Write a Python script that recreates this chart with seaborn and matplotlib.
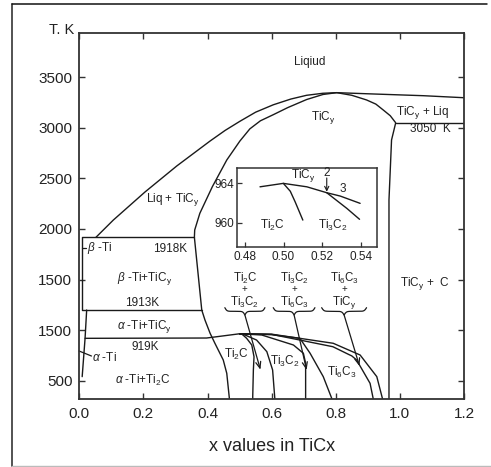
import numpy as np
import matplotlib
matplotlib.use("Agg")
import matplotlib.pyplot as plt
import seaborn as sns
from matplotlib.lines import Line2D

# Phase boundaries of the Ti-C system; x = C/Ti, T in K as placed on the chart's scale
liquidus_x = [0.052, 0.106, 0.205, 0.304, 0.408, 0.455, 0.501, 0.550, 0.605, 0.660,
              0.709, 0.760, 0.803, 0.917, 1.073, 1.200]
liquidus_T = [1918, 2088, 2366, 2623, 2870, 2975, 3065, 3155, 3228, 3285,
              3322, 3342, 3348, 3335, 3318, 3298]

# TiCy boundary: bottom -> 1918 K -> congruent maximum -> 3050 K -> TiCy + C
ticy_x = [0.468, 0.468, 0.460, 0.449, 0.423, 0.408, 0.392, 0.382, 0.359, 0.360, 0.376, 0.415,
          0.460, 0.501, 0.532, 0.565, 0.605, 0.650, 0.709, 0.760, 0.803, 0.850, 0.896,
          0.925, 0.948, 0.970, 0.987, 0.974, 0.966, 0.966, 0.966]
ticy_T = [319, 329, 573, 705, 870, 969, 1100, 1199, 1918, 1990, 2155, 2418,
          2682, 2870, 2990, 3070, 3130, 3200, 3280, 3330, 3348, 3322, 3276,
          3235, 3177, 3120, 3050, 2880, 2287, 1298, 319]

eutectic_x = [0.987, 1.2]
eutectic_T = [3050, 3050]

beta_box_x = [0.359, 0.0075, 0.0075, 0.382]
beta_box_T = [1918, 1918, 1199, 1199]

alpha_ti_x = [0.023, 0.018, 0.009]
alpha_ti_T = [1199, 919, 540]

line_919_x = [0.018, 0.397, 0.439, 0.500]
line_919_T = [919, 922, 939, 964]

# ordered carbide boundaries below 964 K
ord_a_x = [0.500, 0.507, 0.522, 0.538, 0.545, 0.543, 0.541, 0.541]
ord_a_T = [964, 962, 919, 853, 737, 606, 342, 319]
ord_b_x = [0.500, 0.517, 0.553, 0.585, 0.603, 0.610]
ord_b_T = [964, 952, 902, 787, 606, 319]
ord_c_x = [0.500, 0.569, 0.668, 0.699, 0.706, 0.706]
ord_c_T = [964, 952, 853, 771, 672, 319]
ord_d_x = [0.500, 0.600, 0.688, 0.720, 0.761, 0.787, 0.787]
ord_d_T = [964, 955, 919, 771, 540, 329, 319]
ord_e_x = [0.500, 0.600, 0.688, 0.791, 0.840, 0.850, 0.865, 0.907, 0.917]
ord_e_T = [964, 958, 902, 836, 760, 745, 705, 474, 319]
ord_f_x = [0.500, 0.600, 0.688, 0.792, 0.876, 0.928, 0.946]
ord_f_T = [964, 960, 919, 870, 754, 540, 319]

# inset (detail near 964 K)
ins_top_x = [0.4878, 0.4999, 0.5121, 0.5224, 0.5294, 0.5397]
ins_top_T = [963.65, 964.00, 963.65, 963.05, 962.71, 961.97]
ins_2_x = [0.5224, 0.5328, 0.5394]
ins_2_T = [963.05, 961.46, 960.35]
ins_ti2c_x = [0.4999, 0.5035, 0.5060, 0.5100]
ins_ti2c_T = [964.00, 963.20, 962.13, 960.27]

ytick_pos = [500, 1000, 1500, 2000, 2500, 3000, 3500]
ytick_lab = ["500", "1500", "1500", "2000", "2500", "3000", "3500"]
xtick_pos = [0.0, 0.2, 0.4, 0.6, 0.8, 1.0, 1.2]
ins_xticks = [0.48, 0.50, 0.52, 0.54]
ins_yticks = [960, 964]

sns.set_style("ticks")
plt.rcParams['font.family'] = ['Liberation Sans', 'DejaVu Sans']
plt.rcParams['mathtext.fontset'] = 'custom'
plt.rcParams['mathtext.rm'] = 'Liberation Sans'
plt.rcParams['mathtext.it'] = 'Liberation Sans:italic'
plt.rcParams['mathtext.bf'] = 'Liberation Sans:bold'

LC = '#1a1a1a'
TC = '#222222'

fig = plt.figure(figsize=(4.91, 4.67), dpi=100)
ax = fig.add_axes([0.1615, 0.1456, 0.7835, 0.7831])


def curve(a, xs, ys, lw=1.0):
    sns.lineplot(x=xs, y=ys, sort=False, estimator=None, color=LC, lw=lw, ax=a)


for xs, ys in [(liquidus_x, liquidus_T), (ticy_x, ticy_T), (eutectic_x, eutectic_T),
               (beta_box_x, beta_box_T), (alpha_ti_x, alpha_ti_T), (line_919_x, line_919_T),
               (ord_a_x, ord_a_T), (ord_b_x, ord_b_T), (ord_c_x, ord_c_T),
               (ord_d_x, ord_d_T), (ord_e_x, ord_e_T), (ord_f_x, ord_f_T)]:
    curve(ax, xs, ys)

ax.set_xlim(0, 1.2)
ax.set_ylim(319, 3935)
ax.set_xticks(xtick_pos)
ax.set_xticklabels([f"{v:.1f}" for v in xtick_pos])
ax.set_yticks(ytick_pos)
ax.set_yticklabels(ytick_lab)
ax.tick_params(direction='in', length=4, width=1.0, colors='#333333', labelcolor=TC,
               labelsize=11, top=True, right=True)
ax.tick_params(axis='x', pad=6)
ax.tick_params(axis='y', pad=5)
for s in ax.spines.values():
    s.set_linewidth(1.3)
    s.set_color('#333333')
ax.set_xlabel("x values in TiCx", fontsize=13, color=TC, labelpad=12)

fs = 8.5
def lab(x, y, s, ha='center', size=fs):
    ax.text(x, y, s, ha=ha, va='center', fontsize=size, color=TC, clip_on=False)

lab(-0.054, 3968, "T. K", size=10.5)
lab(0.719, 3651, "Liqiud")
lab(0.760, 3107, "TiC$_\\mathrm{y}$")
lab(1.072, 3147, "TiC$_\\mathrm{y}$ + Liq")
lab(1.094, 2985, "3050  K")
lab(0.292, 2287, "Liq + TiC$_\\mathrm{y}$")
lab(1.078, 1466, "TiC$_\\mathrm{y}$ +  C")
lab(0.024, 1812, "$\\beta$ -Ti", ha='left')
lab(0.283, 1802, "1918K")
lab(0.205, 1506, "$\\beta$ -Ti+TiC$_\\mathrm{y}$")
lab(0.196, 1269, "1913K")
lab(0.205, 1032, "$\\alpha$ -Ti+TiC$_\\mathrm{y}$")
lab(0.205, 834, "919K")
lab(0.040, 734, "$\\alpha$ -Ti", ha='left')
lab(0.199, 507, "$\\alpha$ -Ti+Ti$_2$C")
lab(0.491, 756, "Ti$_2$C")
lab(0.642, 688, "Ti$_3$C$_2$")
lab(0.818, 579, "Ti$_6$C$_3$")

ax.add_line(Line2D([0.0075, 0.020], [1812, 1812], color=LC, lw=0.9))
ax.add_line(Line2D([-0.001, 0.038], [794, 744], color=LC, lw=0.9, clip_on=False))

# two-phase labels with braces and arrows
groups = [("Ti$_2$C", "Ti$_3$C$_2$", 0.454, 0.579, (0.565, 609)),
          ("Ti$_3$C$_2$", "Ti$_6$C$_3$", 0.605, 0.735, (0.709, 606)),
          ("Ti$_6$C$_3$", "TiC$_\\mathrm{y}$", 0.756, 0.896, (0.874, 645))]
for top, bot, x0, x1, tip in groups:
    xc = (x0 + x1) / 2
    lab(xc, 1515, top, size=8.3)
    lab(xc, 1405, "+", size=7)
    lab(xc, 1275, bot, size=8.3)
    t = np.linspace(0, 0.5, 101)
    half = 1 / (1 + np.exp(-40 * t)) + 1 / (1 + np.exp(-40 * (t - 0.5)))
    shape = np.concatenate([half, half[-2::-1]]) - 0.5
    bx = np.linspace(x0, x1, len(shape))
    by = 1222 - shape * (1222 - 1150)
    ax.plot(bx, by, color=LC, lw=0.9)
    ax.annotate("", xy=tip, xytext=(xc, 1150),
                arrowprops=dict(arrowstyle='->,head_length=0.45,head_width=0.18',
                                color=LC, lw=0.9, shrinkA=0, shrinkB=0))

# inset
axi = fig.add_axes([0.482, 0.471, 0.2868, 0.169])
curve(axi, ins_top_x, ins_top_T)
curve(axi, ins_2_x, ins_2_T)
curve(axi, ins_ti2c_x, ins_ti2c_T)
axi.set_xlim(0.4757, 0.5487)
axi.set_ylim(957.53, 965.55)
axi.set_xticks(ins_xticks)
axi.set_xticklabels([f"{v:.2f}" for v in ins_xticks])
axi.set_yticks(ins_yticks)
axi.tick_params(direction='in', length=3.5, width=0.9, colors='#333333', labelcolor=TC,
                labelsize=8.5)
axi.tick_params(axis='x', pad=3)
axi.tick_params(axis='y', pad=1.5)
for s in axi.spines.values():
    s.set_linewidth(1.1)
    s.set_color('#333333')
for x, y, s in [(0.5101, 964.75, "TiC$_\\mathrm{y}$"), (0.5224, 965.05, "2"),
                (0.5308, 963.39, "3"), (0.4945, 959.77, "Ti$_2$C"),
                (0.5257, 959.77, "Ti$_3$C$_2$")]:
    axi.text(x, y, s, ha='center', va='center', fontsize=8.5, color=TC)
axi.annotate("", xy=(0.5224, 963.15), xytext=(0.5224, 964.55),
             arrowprops=dict(arrowstyle='->,head_length=0.3,head_width=0.15',
                             color=LC, lw=0.8, shrinkA=0, shrinkB=0))

# outer frame of the original figure
fig.add_artist(Line2D([0.0244, 0.0244], [0.0021, 0.9914], color='#444444', lw=1.3))
fig.add_artist(Line2D([0.0244, 0.991], [0.9914, 0.9914], color='#111111', lw=1.1))
fig.add_artist(Line2D([0.0244, 1.0], [0.0021, 0.0021], color='#bbbbbb', lw=1.0))

fig.savefig("out.png", dpi=100)
